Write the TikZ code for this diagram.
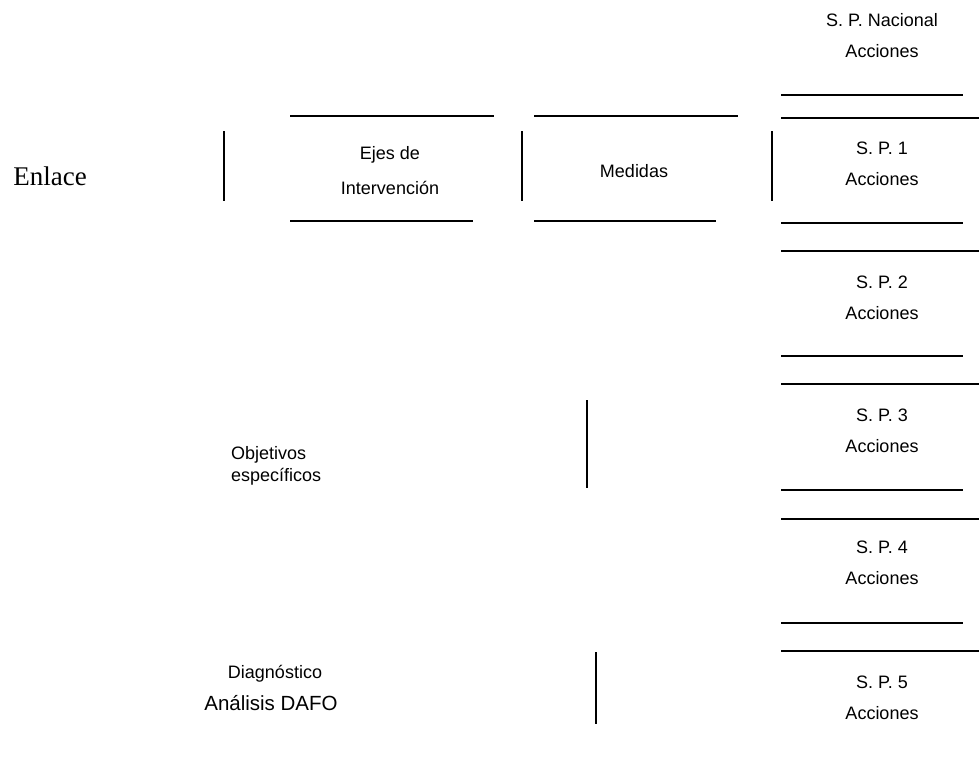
\documentclass[tikz,border=0pt]{standalone}
\usepackage{fontspec}
\setmainfont{Liberation Sans}
\newfontfamily\serifrm{Liberation Serif}
\usepackage{xcolor}
\usepackage{tikz}
\usetikzlibrary{positioning}

\begin{document}
\begin{tikzpicture}[
    x=1pt, y=-1pt,
    label/.style={inner sep=0pt, align=center, font=\fontsize{18}{31}\selectfont},
    rule/.style={line width=1.6pt},
    bar/.style={line width=1.6pt}
]
\useasboundingbox (0,0) rectangle (979,757);

% Nodes
\node[inner sep=0pt, font=\serifrm\fontsize{27}{30}\selectfont] (enlace) at (50,176) {Enlace};
\node[label, font=\fontsize{18}{35}\selectfont] (ejes) at (390,171) {Ejes de\\Intervención};
\node[label] (medidas) at (634,171) {Medidas};
\node[label, align=left, anchor=west, font=\fontsize{18}{22}\selectfont] (objetivos) at (231,466) {Objetivos\\específicos};
\node[label] (diagnostico) at (275,674) {Diagnóstico};
\node[label, font=\fontsize{20.5}{24}\selectfont] (dafo) at (271,703) {Análisis DAFO};

\node[label] (nacional) at (882,36) {S. P. Nacional\\Acciones};
\node[label] (sp1) at (882,164) {S. P. 1\\Acciones};
\node[label] (sp2) at (882,298) {S. P. 2\\Acciones};
\node[label] (sp3) at (882,431) {S. P. 3\\Acciones};
\node[label] (sp4) at (882,563) {S. P. 4\\Acciones};
\node[label] (sp5) at (882,698) {S. P. 5\\Acciones};

% Lines
\draw[bar] (224,131) -- (224,201);
\draw[bar] (522,131) -- (522,201);
\draw[bar] (772,131) -- (772,201);
\draw[bar] (587,400) -- (587,488);
\draw[bar] (596,652) -- (596,724);

\draw[rule] (290,116) -- (494,116);
\draw[rule] (290,221) -- (473,221);
\draw[rule] (534,116) -- (738,116);
\draw[rule] (534,221) -- (716,221);

\draw[rule] (781,95) -- (963,95);
\draw[rule] (781,118) -- (979,118);
\draw[rule] (781,223) -- (963,223);
\draw[rule] (781,251) -- (979,251);
\draw[rule] (781,356) -- (963,356);
\draw[rule] (781,384) -- (979,384);
\draw[rule] (781,490) -- (963,490);
\draw[rule] (781,519) -- (979,519);
\draw[rule] (781,623) -- (963,623);
\draw[rule] (781,651) -- (979,651);

\end{tikzpicture}
\end{document}
